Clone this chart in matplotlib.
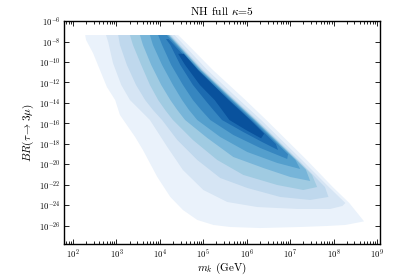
import numpy as np
import matplotlib
matplotlib.use("Agg")
import matplotlib.pyplot as plt

plt.rcParams['font.family'] = 'serif'
plt.rcParams['font.serif'] = ['cmr10', 'DejaVu Serif']
plt.rcParams['mathtext.fontset'] = 'cm'
plt.rcParams['axes.formatter.use_mathtext'] = True

# Contour outlines, in (log10 m_k [GeV], log10 BR)
# from outermost (lowest density) to innermost (highest density)
lvl1_logm = [2.28, 2.30, 2.46, 2.62, 2.78, 2.97, 3.08, 3.27, 3.43, 3.61, 3.94, 4.24, 4.53, 4.86, 5.23, 5.62, 6.31, 7.23, 7.85, 8.27, 8.70, 8.36, 7.98, 7.38, 6.45, 5.97, 5.22, 4.62, 4.42]
lvl1_logbr = [-7.37, -7.85, -9.12, -10.78, -12.44, -13.71, -15.17, -16.34, -17.32, -18.59, -21.22, -23.17, -24.44, -25.41, -25.90, -26.10, -26.20, -26.10, -26.00, -25.90, -25.55, -23.76, -22.20, -19.56, -15.66, -13.71, -10.78, -8.20, -7.37]

lvl2_logm = [2.76, 2.81, 2.92, 3.11, 3.31, 3.54, 3.77, 4.17, 4.53, 5.00, 5.55, 6.24, 7.16, 7.92, 8.20, 8.27, 7.89, 7.27, 6.33, 5.83, 5.09, 4.34]
lvl2_logbr = [-7.37, -8.05, -10.10, -12.24, -13.71, -14.68, -15.66, -18.29, -20.54, -22.49, -23.66, -24.15, -24.34, -24.34, -24.05, -23.76, -22.20, -19.56, -15.66, -13.71, -10.78, -7.37]

lvl3_logm = [3.04, 3.08, 3.24, 3.45, 3.66, 3.84, 4.05, 4.40, 4.86, 5.39, 6.01, 6.77, 7.46, 7.88, 7.80, 7.19, 6.24, 5.74, 5.00, 4.26]
lvl3_logbr = [-7.37, -8.34, -10.29, -12.24, -13.71, -14.68, -15.66, -17.61, -19.56, -21.32, -22.29, -23.17, -23.46, -23.17, -22.20, -19.56, -15.66, -13.71, -10.78, -7.37]

lvl4_logm = [3.31, 3.38, 3.57, 3.77, 3.96, 4.12, 4.30, 4.76, 5.32, 5.92, 6.70, 7.30, 7.62, 7.50, 7.16, 6.21, 5.71, 4.97, 4.23]
lvl4_logbr = [-7.37, -8.34, -10.29, -12.24, -13.71, -14.68, -15.66, -17.61, -19.56, -21.02, -22.00, -22.49, -22.20, -21.00, -19.56, -15.66, -13.71, -10.78, -7.37]

lvl5_logm = [3.54, 3.61, 3.80, 4.03, 4.24, 4.40, 4.58, 5.09, 5.69, 6.38, 7.00, 7.46, 7.36, 7.14, 6.19, 5.69, 4.95, 4.21]
lvl5_logbr = [-7.37, -8.34, -10.29, -12.24, -13.71, -14.68, -15.66, -17.41, -19.27, -20.34, -21.22, -21.61, -20.50, -19.56, -15.66, -13.71, -10.78, -7.37]

lvl6_logm = [3.77, 3.84, 4.05, 4.30, 4.51, 4.67, 4.86, 5.39, 6.01, 6.70, 7.23, 7.12, 6.17, 5.67, 4.93, 4.19]
lvl6_logbr = [-7.37, -8.34, -10.29, -12.24, -13.71, -14.68, -15.66, -17.32, -18.78, -19.85, -20.44, -19.56, -15.66, -13.71, -10.78, -7.37]

lvl7_logm = [3.96, 4.05, 4.26, 4.53, 4.76, 4.95, 5.16, 5.69, 6.31, 6.93, 6.95, 6.14, 5.64, 4.90, 4.16]
lvl7_logbr = [-7.37, -8.34, -10.29, -12.24, -13.71, -14.68, -15.66, -17.12, -18.39, -19.46, -19.00, -15.66, -13.71, -10.78, -7.37]

lvl8_logm = [4.14, 4.24, 4.47, 4.76, 5.04, 5.23, 5.43, 5.92, 6.35, 6.72, 6.67, 6.10, 5.60, 4.86, 4.20]
lvl8_logbr = [-7.76, -8.34, -10.29, -12.24, -13.71, -14.68, -15.66, -16.83, -17.80, -18.59, -18.00, -15.66, -13.71, -10.78, -7.76]

lvl9_logm = [4.42, 4.58, 4.92, 5.26, 5.43, 5.60, 5.98, 6.33, 6.40, 6.08, 5.58, 4.88, 4.55]
lvl9_logbr = [-9.20, -10.29, -12.24, -13.71, -14.68, -15.66, -16.63, -17.45, -17.00, -15.66, -13.71, -10.78, -9.20]

levels = [
    (lvl1_logm, lvl1_logbr), (lvl2_logm, lvl2_logbr), (lvl3_logm, lvl3_logbr),
    (lvl4_logm, lvl4_logbr), (lvl5_logm, lvl5_logbr), (lvl6_logm, lvl6_logbr),
    (lvl7_logm, lvl7_logbr), (lvl8_logm, lvl8_logbr), (lvl9_logm, lvl9_logbr),
]

x_tick_exp = [2, 3, 4, 5, 6, 7, 8, 9]
y_tick_exp = [-26, -24, -22, -20, -18, -16, -14, -12, -10, -8, -6]

fig = plt.figure(figsize=(4.07, 2.79), dpi=100)
ax = fig.add_axes([0.157, 0.1254, 0.777, 0.7993])
ax.set_xscale('log')
ax.set_yscale('log')

colors = plt.cm.Blues(np.linspace(0.07, 0.87, len(levels)))
for (lm, lb), c in zip(levels, colors):
    ax.fill(10.0 ** np.array(lm), 10.0 ** np.array(lb), color=c, lw=0, antialiased=True)

ax.set_xlim(10 ** 1.79, 10 ** 9.07)
ax.set_ylim(10 ** -27.76, 1e-6)
ax.set_xticks([10.0 ** e for e in x_tick_exp])
ax.set_yticks([10.0 ** e for e in y_tick_exp])

ax.tick_params(which='both', direction='in', top=True, right=True, labelsize=6.3, width=0.6, pad=2.5)
ax.tick_params(which='major', length=3.5)
ax.tick_params(which='minor', length=2)
for s in ax.spines.values():
    s.set_linewidth(1.0)

ax.set_title(r'NH full $\kappa$=5', fontsize=8.3, pad=4)
ax.set_xlabel(r'$m_k$ (GeV)', fontsize=8, labelpad=0)
ax.set_ylabel(r'$BR(\tau\to3\mu)$', fontsize=8, labelpad=1.5)

fig.savefig('out.png', dpi=100)
